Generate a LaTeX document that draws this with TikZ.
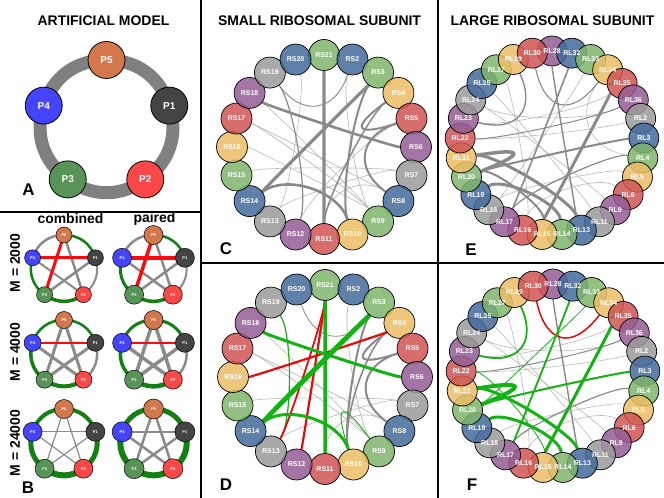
\documentclass[tikz,border=0pt]{standalone}
\usepackage{fontspec}
\setmainfont{Liberation Sans}
\usepackage{tikz}
\usetikzlibrary{calc}

\definecolor{pone}{RGB}{68,68,68}
\definecolor{ptwo}{RGB}{250,72,72}
\definecolor{pthree}{RGB}{88,148,88}
\definecolor{pfour}{RGB}{68,68,250}
\definecolor{pfive}{RGB}{210,120,76}
\definecolor{ringgray}{RGB}{128,128,128}
\definecolor{linkgreen}{RGB}{18,128,18}
\definecolor{linkred}{RGB}{250,10,10}
\definecolor{linkgray}{RGB}{138,138,138}
\definecolor{lightlink}{RGB}{185,185,185}
\definecolor{hitgreen}{RGB}{20,178,20}
\definecolor{hitred}{RGB}{226,12,12}
\definecolor{cb}{RGB}{67,106,155}
\definecolor{cg}{RGB}{126,181,108}
\definecolor{cy}{RGB}{237,190,102}
\definecolor{cr}{RGB}{208,84,84}
\definecolor{cp}{RGB}{149,94,149}
\definecolor{ck}{RGB}{155,155,155}

\pgfdeclarelayer{paper}
\pgfdeclarelayer{links}
\pgfsetlayers{paper,links,main}

% link between two members of a ring, pulled towards the ring centre
\newcommand\ringlink[5][0.45]{%
  \draw[#5] (#3) .. controls ($(#3)!#1!(#2)$) and ($(#4)!#1!(#2)$) .. (#4);}

\begin{document}
\begin{tikzpicture}[x=1bp,y=-1bp,
  rs/.style={circle, draw=black, line width=0.7bp, minimum size=31bp, inner sep=0pt,
    fill opacity=0.85},
  rl/.style={rs, minimum size=30bp},
  tag/.style={text=white, inner sep=0pt, font=\bfseries\fontsize{7}{7}\selectfont},
  pbig/.style={circle, draw=black, line width=0.8bp, minimum size=37bp, inner sep=0pt,
    text=white, font=\bfseries\fontsize{10}{10}\selectfont},
  pmini/.style={circle, draw=black, line width=0.5bp, inner sep=0pt,
    text=white, font=\bfseries\fontsize{4}{4}\selectfont},
  panel/.style={font=\bfseries\fontsize{17}{17}\selectfont},
  heading/.style={font=\bfseries\fontsize{14}{14}\selectfont}]

\begin{pgfonlayer}{paper}
  \fill[white] (0,0) rectangle (664,498);
\end{pgfonlayer}
\useasboundingbox (0,0) rectangle (664,498);

% frame
\draw[line width=1.1bp] (201,0) -- (201,498);
\draw[line width=1.1bp] (438,0) -- (438,498);
\draw[line width=1.1bp] (0,212) -- (201,212);
\draw[line width=1.1bp] (201,263) -- (664,263);

\node[heading] at (103.5,21) {ARTIFICIAL MODEL};
\node[heading] at (319.5,21) {SMALL RIBOSOMAL SUBUNIT};
\node[heading] at (552.5,21) {LARGE RIBOSOMAL SUBUNIT};

% A: artificial model
\foreach \n/\c [count=\i from 0] in {5/pfive,1/pone,2/ptwo,3/pthree,4/pfour}
  \node[pbig, fill=\c] (aP\n) at ($(106.5,126)+({72*\i-90}:66)$) {P\n};
\begin{pgfonlayer}{links}
  \foreach \a/\b in {5/1,1/2,2/3,3/4,4/5}
    \draw[ringgray, line width=13bp] (aP\a.center) to[bend left=36] (aP\b.center);
\end{pgfonlayer}
\node[panel] at (28.5,190) {A};

% B: combined / paired
\node[heading] at (70.5,219) {combined};
\node[heading] at (154.5,219) {paired};
\node[heading, rotate=90] at (15,263) {M = 2000};
\node[heading, rotate=90] at (15,352) {M = 4000};
\node[heading, rotate=90] at (15,443) {M = 24000};
\foreach \r/\y/\cs/\ps in {1/268/16/19, 2/353/17/19, 3/442/19/20} {
  \foreach \col/\x/\s in {c/64/\cs, p/153.5/\ps} {
    \foreach \n/\c [count=\i from 0] in {5/pfive,1/pone,2/ptwo,3/pthree,4/pfour}
      \node[pmini, fill=\c, minimum size=\s bp] (\col\r P\n) at ($(\x,\y)+({72*\i-90}:33)$) {P\n};
  }
}
\begin{pgfonlayer}{links}
  \foreach \a/\b/\k/\w/\t in {P5/P2/linkgray/2.5/0, P1/P3/linkgray/2.5/0, P4/P2/linkgray/2/0,
      P4/P5/linkgray/2.5/36, P5/P1/linkgreen/2.5/36, P1/P2/linkgray/2/36, P2/P3/linkgreen/3.5/36,
      P3/P4/linkgreen/2.5/36, P4/P1/linkred/3/0, P5/P3/linkred/3/0}
    \draw[\k, line width=\w bp] (c1\a.center) to[bend left=\t] (c1\b.center);
  \foreach \a/\b/\k/\w/\t in {P5/P2/linkgray/2.5/0, P1/P3/linkgray/2.5/0, P4/P2/linkgray/2.5/0,
      P4/P5/linkgray/2.5/36, P5/P1/linkgreen/2.5/36, P1/P2/linkgray/2/36, P2/P3/linkgreen/3.5/36,
      P3/P4/linkgreen/3/36, P4/P1/linkred/3.5/0, P5/P3/linkred/3.5/0}
    \draw[\k, line width=\w bp] (p1\a.center) to[bend left=\t] (p1\b.center);
  \foreach \a/\b/\k/\w/\t in {P5/P2/linkgray/3/0, P1/P3/linkgray/3/0, P4/P2/linkgray/3/0,
      P5/P3/linkgray/3/0, P4/P5/linkgreen/2.5/36, P5/P1/linkgreen/2.5/36, P1/P2/linkgray/2.5/36,
      P2/P3/linkgreen/4/36, P3/P4/linkgreen/3.5/36, P4/P1/linkred/2.5/0}
    \draw[\k, line width=\w bp] (c2\a.center) to[bend left=\t] (c2\b.center);
  \foreach \a/\b/\k/\w/\t in {P5/P2/linkgray/3.5/0, P1/P3/linkgray/3.5/0, P4/P2/linkgray/3.5/0,
      P5/P3/linkgray/3.5/0, P4/P5/linkgreen/3/36, P5/P1/linkgreen/3/36, P1/P2/linkgray/2.5/36,
      P2/P3/linkgreen/4.5/36, P3/P4/linkgreen/3.5/36, P4/P1/linkred/2.5/0}
    \draw[\k, line width=\w bp] (p2\a.center) to[bend left=\t] (p2\b.center);
  \foreach \a/\b/\k/\w/\t in {P5/P2/linkgray/1.2/0, P1/P3/linkgray/1.2/0, P4/P2/linkgray/1.2/0,
      P5/P3/linkgray/1.2/0, P4/P1/linkgray/1.2/0, P4/P5/linkgreen/4/36, P5/P1/linkgreen/4/36,
      P1/P2/linkgreen/5/36, P2/P3/linkgreen/6/36, P3/P4/linkgreen/5/36}
    \draw[\k, line width=\w bp] (c3\a.center) to[bend left=\t] (c3\b.center);
  \foreach \a/\b/\k/\w/\t in {P5/P2/linkgray/2.5/0, P1/P3/linkgray/2.5/0, P4/P2/linkgray/2.5/0,
      P5/P3/linkgray/2.5/0, P4/P1/linkgray/2.5/0, P4/P5/linkgreen/5/36, P5/P1/linkgreen/5/36,
      P1/P2/linkgreen/6/36, P2/P3/linkgreen/6/36, P3/P4/linkgreen/6/36}
    \draw[\k, line width=\w bp] (p3\a.center) to[bend left=\t] (p3\b.center);
\end{pgfonlayer}
\node[panel] at (28,488) {B};

% C, D: small subunit
\coordinate (Cc) at (324,147);
\coordinate (Dc) at (325,377);
\foreach \n/\c [count=\i from 0] in {21/cg,2/cb,3/cg,4/cy,5/cr,6/cp,7/ck,8/cb,9/cg,10/cy,
    11/cr,12/cp,13/ck,14/cb,15/cg,16/cy,17/cr,18/cp,19/ck,20/cb} {
  \node[rs, fill=\c] (C\n) at ($(Cc)+({18*\i-90}:92)$) {};
  \node[rs, fill=\c] (D\n) at ($(Dc)+({18*\i-90}:92)$) {};
}
\foreach \n in {21,2,3,...,20} {
  \node[tag] at (C\n) {RS\n};
  \node[tag] at (D\n) {RS\n};
}
\begin{pgfonlayer}{links}
  \foreach \a/\b/\w/\q/\k in {17/9/0.7/0.3/lightlink, 17/8/0.7/0.25/lightlink, 18/9/0.6/0.3/lightlink,
      2/9/0.7/0.4/lightlink, 13/7/0.6/0.3/lightlink, 15/7/0.6/0.3/lightlink, 11/8/0.7/0.5/lightlink,
      12/5/0.6/0.4/lightlink, 20/13/0.6/0.35/lightlink, 16/9/0.6/0.2/lightlink,
      19/2/0.9/0.6/linkgray, 19/12/1.2/0.45/linkgray, 4/11/1.5/0.4/linkgray, 3/10/2/0.45/linkgray,
      5/8/2/0.6/linkgray, 5/4/2/0.65/linkgray, 14/10/2.6/0.5/linkgray, 18/6/2.6/0.25/linkgray,
      3/14/3.2/0.1/linkgray, 21/11/3.2/0.1/linkgray}
    \ringlink[\q]{Cc}{C\a}{C\b}{\k, line width=\w bp};
  \foreach \a/\b/\w/\q/\k in {17/9/0.7/0.3/lightlink, 17/8/0.7/0.25/lightlink, 18/9/0.6/0.3/lightlink,
      2/9/0.7/0.4/lightlink, 13/7/0.6/0.3/lightlink, 15/7/0.6/0.3/lightlink, 11/8/0.7/0.5/lightlink,
      20/3/0.8/0.6/linkgray, 3/10/2/0.4/linkgray, 4/10/1.6/0.45/linkgray, 5/8/2/0.6/linkgray,
      5/4/2/0.65/linkgray, 19/13/1.2/0.4/hitgreen, 10/9/0.9/0.7/hitgreen, 16/4/2.2/0.2/hitred,
      21/12/2.2/0.2/hitred, 21/13/1.8/0.3/hitred, 18/6/3/0.25/hitgreen, 14/10/3/0.5/hitgreen,
      3/14/3/0.2/hitgreen, 3/14/4.5/0.08/hitgreen, 21/11/3.5/0.1/hitgreen}
    \ringlink[\q]{Dc}{D\a}{D\b}{\k, line width=\w bp};
\end{pgfonlayer}
\node[panel] at (226,249) {C};
\node[panel] at (226,485) {D};

% E, F: large subunit
\coordinate (Ec) at (552,143);
\coordinate (Fc) at (553,376);
\foreach \n/\c [count=\i from 0] in {28/cp,32/cb,33/cg,34/cy,35/cr,36/cp,2/ck,3/cb,4/cg,5/cy,
    6/cr,9/cp,11/ck,13/cb,14/cg,15/cy,16/cr,17/cp,18/ck,19/cb,20/cg,21/cy,22/cr,23/cp,24/ck,
    25/cb,27/cg,29/cy,30/cr} {
  \node[rl, fill=\c] (E\n) at ($(Ec)+({360/29*\i-90}:92)$) {};
  \node[rl, fill=\c] (F\n) at ($(Fc)+({360/29*\i-90}:92)$) {};
}
\foreach \n/\e in {28/28,32/32,33/33,34/34,35/35,36/36,2/2,3/3,4/4,5/5,6/6,9/9,11/11,13/13,
    14/14,15/15,16/16,17/17,18/18,19/19,20/20,21/31,22/22,23/23,24/24,25/25,27/27,29/29,30/30} {
  \node[tag] at (E\n) {RL\e};
  \node[tag] at (F\n) {RL\n};
}
\begin{pgfonlayer}{links}
  \foreach \a/\b/\w/\q/\k in {27/16/0.6/0.3/lightlink, 25/11/0.6/0.3/lightlink, 24/9/0.6/0.35/lightlink,
      2/22/0.6/0.45/lightlink, 33/18/0.6/0.3/lightlink, 36/24/0.6/0.5/lightlink, 6/16/0.6/0.4/lightlink,
      5/18/0.6/0.3/lightlink, 23/35/0.6/0.4/lightlink, 34/4/0.6/0.6/lightlink,
      22/36/1/0.4/linkgray, 4/17/1.2/0.35/linkgray, 30/34/1.1/0.65/linkgray, 29/23/1.4/0.6/linkgray,
      28/13/1.4/0.2/linkgray, 32/17/1.6/0.2/linkgray, 3/20/2/0.3/linkgray, 20/15/2/0.3/linkgray,
      35/15/3/0.15/linkgray, 19/14/3/0.35/linkgray, 21/13/3/0.35/linkgray, 21/20/3.5/0.7/linkgray}
    \ringlink[\q]{Ec}{E\a}{E\b}{\k, line width=\w bp};
  \foreach \a/\b/\w/\q/\k in {27/16/0.6/0.3/lightlink, 25/11/0.6/0.3/lightlink, 24/9/0.6/0.35/lightlink,
      2/22/0.6/0.45/lightlink, 36/24/0.6/0.5/lightlink, 6/16/0.6/0.4/lightlink, 5/18/0.6/0.3/lightlink,
      23/35/0.6/0.4/lightlink, 22/36/1/0.4/linkgray, 4/17/1.2/0.35/linkgray, 28/13/1.4/0.2/linkgray,
      30/34/1.5/0.65/hitred, 33/20/0.8/0.2/hitgreen, 22/15/0.8/0.3/hitgreen, 29/23/1.8/0.6/hitgreen,
      32/17/1.8/0.2/hitgreen, 3/20/2/0.3/hitgreen, 35/15/3/0.15/hitgreen, 19/14/3/0.35/hitgreen,
      21/13/3/0.35/hitgreen, 21/20/4/0.7/hitgreen}
    \ringlink[\q]{Fc}{F\a}{F\b}{\k, line width=\w bp};
\end{pgfonlayer}
\node[panel] at (471,250) {E};
\node[panel] at (472,485) {F};
\end{tikzpicture}
\end{document}
